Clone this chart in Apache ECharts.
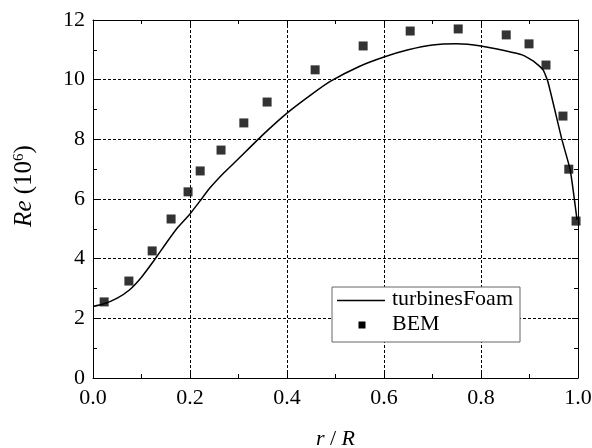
<!DOCTYPE html>
<html>
<head>
<meta charset="utf-8">
<script src="https://cdn.jsdelivr.net/npm/echarts@6/dist/echarts.min.js"></script>
<style>html,body{margin:0;padding:0;background:#fff;}#c{width:592px;height:448px;}</style>
</head>
<body>
<div id="c"></div>
<script>
var foamR  = [0.0, 0.02, 0.05, 0.075, 0.1, 0.125, 0.15, 0.175, 0.2, 0.22, 0.24, 0.27, 0.3, 0.35, 0.4, 0.45, 0.49, 0.55, 0.6, 0.65, 0.7, 0.75, 0.8, 0.85, 0.885, 0.91, 0.928, 0.938, 0.967, 0.984, 0.998];
var foamRe = [2.4, 2.47, 2.68, 2.95, 3.38, 3.92, 4.5, 5.05, 5.5, 5.92, 6.35, 6.88, 7.35, 8.15, 8.88, 9.5, 9.95, 10.45, 10.76, 11.0, 11.16, 11.2, 11.13, 10.97, 10.83, 10.6, 10.33, 9.93, 7.98, 6.97, 5.3];
var bemR  = [0.023, 0.074, 0.122, 0.161, 0.196, 0.221, 0.264, 0.311, 0.359, 0.458, 0.557, 0.654, 0.753, 0.852, 0.899, 0.934, 0.969, 0.981, 0.996];
var bemRe = [2.55, 3.25, 4.26, 5.33, 6.24, 6.94, 7.64, 8.55, 9.25, 10.33, 11.13, 11.63, 11.70, 11.50, 11.20, 10.49, 8.78, 7.0, 5.26];
var xTicks = [0, 0.2, 0.4, 0.6, 0.8, 1.0];
var yTicks = [0, 2, 4, 6, 8, 10, 12];
var legendNames = ['turbinesFoam', 'BEM'];

var FONT = 'Liberation Serif';
function pairs(a, b) { return a.map(function (v, i) { return [v, b[i]]; }); }

var axisCommon = {
  axisLine: { show: true, onZero: false, lineStyle: { color: '#000', width: 1 } },
  axisTick: { show: true, inside: true, length: 6, lineStyle: { color: '#000' } },
  minorTick: { show: true, splitNumber: 2, length: 4, lineStyle: { color: '#000' } }
};
function merge(a, b) { return Object.assign({}, a, b); }

var chart = echarts.init(document.getElementById('c'), null, { renderer: 'canvas' });
chart.setOption({
  animation: false,
  backgroundColor: '#fff',
  grid: { left: 93, right: 14, top: 20, bottom: 70, containLabel: false, outerBoundsMode: 'none' },
  xAxis: [
    merge(axisCommon, {
      type: 'value', position: 'bottom', min: xTicks[0], max: xTicks[xTicks.length - 1], interval: 0.2,
      axisLabel: { color: '#000', fontFamily: FONT, fontSize: 22, margin: 9, formatter: function (v) { return v.toFixed(1); } },
      splitLine: { show: true, lineStyle: { color: '#000', type: [3, 2], width: 1 } },
      name: '{i|r} / {i|R}', nameLocation: 'middle', nameGap: 50,
      nameTextStyle: { color: '#000', fontFamily: FONT, fontSize: 22, rich: { i: { fontStyle: 'italic', fontFamily: FONT, fontSize: 22, color: '#000' } } }
    }),
    merge(axisCommon, {
      type: 'value', position: 'top', min: 0, max: 1, interval: 0.2,
      axisLabel: { show: false }, splitLine: { show: false }
    })
  ],
  yAxis: [
    merge(axisCommon, {
      type: 'value', position: 'left', min: yTicks[0], max: yTicks[yTicks.length - 1], interval: 2,
      axisLabel: { color: '#000', fontFamily: FONT, fontSize: 22, margin: 8 },
      splitLine: { show: true, lineStyle: { color: '#000', type: [3, 2], width: 1 } },
      name: '{g| }{i|Re} (10{s|6})', nameLocation: 'middle', nameGap: 56, nameRotate: 90,
      nameTextStyle: { color: '#000', fontFamily: FONT, fontSize: 25, rich: {
        g: { width: 26, fontSize: 25 },
        i: { fontStyle: 'italic', fontFamily: FONT, fontSize: 25, color: '#000' },
        s: { fontFamily: FONT, fontSize: 15, color: '#000', verticalAlign: 'top', padding: [0, 0, 10, 0] }
      } }
    }),
    merge(axisCommon, {
      type: 'value', position: 'right', min: 0, max: 12, interval: 2,
      axisLabel: { show: false }, splitLine: { show: false }
    })
  ],
  graphic: [
    { type: 'rect', left: 331.5, top: 286.5, z: 20, shape: { width: 188, height: 55 },
      style: { fill: '#fff', stroke: '#666', lineWidth: 1 } },
    { type: 'line', z: 21, shape: { x1: 337, y1: 300.5, x2: 385, y2: 300.5 }, style: { stroke: '#000', lineWidth: 1.5 } },
    { type: 'rect', z: 21, shape: { x: 358.5, y: 321.5, width: 7, height: 7 }, style: { fill: '#000' } },
    { type: 'text', z: 21, left: 392, top: 288, style: { text: legendNames[0], fill: '#000', font: '22px "Liberation Serif"' } },
    { type: 'text', z: 21, left: 392, top: 313, style: { text: legendNames[1], fill: '#000', font: '22px "Liberation Serif"' } }
  ],
  series: [
    {
      name: legendNames[0], type: 'line', data: pairs(foamR, foamRe), smooth: 0.15,
      showSymbol: false, symbol: 'none',
      lineStyle: { color: '#000', width: 1.5 }, itemStyle: { color: '#000' }, z: 3
    },
    {
      name: legendNames[1], type: 'scatter', data: pairs(bemR, bemRe), symbol: 'rect', symbolSize: 9,
      itemStyle: { color: '#000' }, z: 4
    }
  ]
});
</script>
</body>
</html>
